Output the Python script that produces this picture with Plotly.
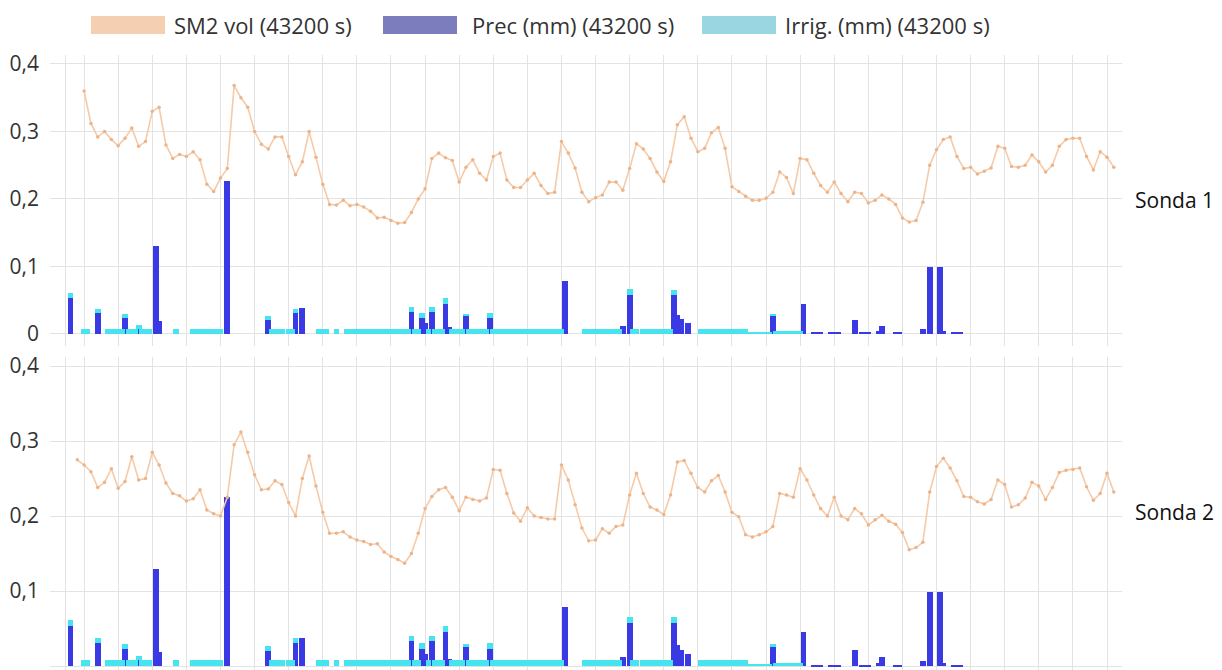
import plotly.graph_objects as go

# ---------------- data ----------------
# Soil moisture SM2 (volumetric), one value per day, day index starts below
sm1_start = 0
sm1 = [
    0.360, 0.312, 0.292, 0.300, 0.288, 0.279, 0.290, 0.305, 0.278, 0.285,
    0.330, 0.336, 0.280, 0.260, 0.266, 0.263, 0.270, 0.258, 0.222, 0.211,
    0.231, 0.245, 0.368, 0.350, 0.336, 0.300, 0.281, 0.274, 0.292, 0.292,
    0.263, 0.236, 0.255, 0.300, 0.262, 0.222, 0.192, 0.191, 0.198, 0.190,
    0.192, 0.188, 0.182, 0.172, 0.173, 0.168, 0.164, 0.165, 0.180, 0.200,
    0.215, 0.260, 0.268, 0.261, 0.257, 0.225, 0.247, 0.258, 0.238, 0.228,
    0.263, 0.268, 0.228, 0.217, 0.217, 0.228, 0.238, 0.220, 0.208, 0.210,
    0.285, 0.268, 0.246, 0.210, 0.196, 0.202, 0.206, 0.225, 0.225, 0.213,
    0.245, 0.282, 0.274, 0.260, 0.240, 0.226, 0.255, 0.310, 0.322, 0.290,
    0.270, 0.275, 0.298, 0.306, 0.275, 0.218, 0.211, 0.204, 0.198, 0.198,
    0.201, 0.210, 0.240, 0.232, 0.208, 0.260, 0.258, 0.238, 0.220, 0.210,
    0.225, 0.208, 0.196, 0.210, 0.208, 0.194, 0.198, 0.206, 0.200, 0.192,
    0.172, 0.166, 0.168, 0.195, 0.250, 0.273, 0.288, 0.292, 0.263, 0.245,
    0.247, 0.237, 0.241, 0.246, 0.278, 0.275, 0.248, 0.247, 0.250, 0.265,
    0.255, 0.240, 0.250, 0.278, 0.288, 0.290, 0.290, 0.263, 0.243, 0.270,
    0.262, 0.247,
]

sm2_start = -1
sm2 = [
    0.275,
    0.268, 0.259, 0.238, 0.245, 0.263, 0.237, 0.246, 0.279, 0.248, 0.250,
    0.285, 0.268, 0.244, 0.230, 0.227, 0.220, 0.223, 0.235, 0.208, 0.203,
    0.200, 0.225, 0.295, 0.312, 0.285, 0.255, 0.235, 0.236, 0.247, 0.242,
    0.218, 0.200, 0.250, 0.280, 0.240, 0.205, 0.177, 0.177, 0.179, 0.172,
    0.168, 0.166, 0.162, 0.163, 0.152, 0.146, 0.142, 0.137, 0.150, 0.177,
    0.210, 0.226, 0.235, 0.238, 0.225, 0.207, 0.225, 0.222, 0.220, 0.224,
    0.262, 0.261, 0.230, 0.204, 0.193, 0.211, 0.200, 0.198, 0.196, 0.196,
    0.268, 0.248, 0.215, 0.184, 0.167, 0.168, 0.183, 0.177, 0.186, 0.188,
    0.228, 0.257, 0.230, 0.212, 0.208, 0.202, 0.228, 0.272, 0.274, 0.257,
    0.238, 0.232, 0.247, 0.254, 0.232, 0.205, 0.199, 0.175, 0.172, 0.175,
    0.179, 0.186, 0.230, 0.228, 0.225, 0.263, 0.248, 0.228, 0.210, 0.200,
    0.225, 0.200, 0.195, 0.210, 0.203, 0.188, 0.195, 0.201, 0.193, 0.189,
    0.178, 0.155, 0.158, 0.165, 0.232, 0.266, 0.277, 0.264, 0.247, 0.226,
    0.225, 0.219, 0.216, 0.222, 0.248, 0.242, 0.212, 0.215, 0.224, 0.245,
    0.240, 0.222, 0.238, 0.258, 0.261, 0.262, 0.264, 0.239, 0.221, 0.230,
    0.257, 0.232,
]

# Precipitation and irrigation, one value per 12 h (43200 s); each row = 5 days
bar_start = -5
prec = [
    0, 0, 0, 0, 0, 0, 0.053, 0, 0, 0,            # -5 .. -0.5
    0, 0, 0, 0, 0.031, 0, 0, 0, 0, 0,            # 0 .. 4.5
    0, 0, 0.023, 0, 0, 0, 0.008, 0, 0, 0,        # 5
    0, 0.130, 0.019, 0, 0, 0, 0, 0, 0, 0,        # 10
    0, 0, 0, 0, 0, 0, 0, 0, 0, 0,                # 15
    0, 0, 0.226, 0, 0, 0, 0, 0, 0, 0,            # 20
    0, 0, 0, 0, 0.020, 0, 0, 0, 0, 0,            # 25
    0, 0, 0.031, 0, 0.038, 0, 0, 0, 0, 0,        # 30
    0, 0, 0, 0, 0, 0, 0, 0, 0, 0,                # 35
    0, 0, 0, 0, 0, 0, 0, 0, 0, 0,                # 40
    0, 0, 0, 0, 0, 0, 0.033, 0, 0, 0.023,        # 45
    0.016, 0, 0.033, 0, 0, 0, 0.045, 0.010, 0, 0,  # 50
    0, 0, 0.026, 0, 0, 0, 0, 0, 0, 0.023,        # 55
    0, 0, 0, 0, 0, 0, 0, 0, 0, 0,                # 60
    0, 0, 0, 0, 0, 0, 0, 0, 0, 0,                # 65
    0, 0.079, 0, 0, 0, 0, 0, 0, 0, 0,            # 70
    0, 0, 0, 0, 0, 0, 0, 0, 0.012, 0,            # 75
    0.058, 0, 0, 0, 0, 0, 0, 0, 0, 0,            # 80
    0, 0, 0, 0.058, 0.028, 0.022, 0, 0.016, 0, 0,  # 85
    0, 0, 0, 0, 0, 0, 0, 0, 0, 0,                # 90
    0, 0, 0, 0, 0, 0, 0, 0, 0, 0,                # 95
    0, 0, 0.026, 0, 0, 0, 0, 0, 0, 0,            # 100
    0, 0.045, 0, 0, 0.002, 0.002, 0.002, 0, 0, 0.002,  # 105
    0.002, 0.002, 0, 0, 0, 0, 0.021, 0, 0.002, 0.002,  # 110
    0.002, 0, 0, 0.004, 0.012, 0, 0, 0, 0.002, 0.002,  # 115
    0, 0, 0, 0, 0, 0, 0.007, 0, 0.099, 0,        # 120
    0, 0.099, 0.004, 0, 0, 0.002, 0.002, 0.002, 0, 0,  # 125
    0, 0, 0, 0, 0, 0, 0, 0, 0, 0,                # 130
]

irrig = [
    0, 0, 0, 0, 0, 0, 0.008, 0, 0, 0,                                      # -5
    0.008, 0.008, 0, 0, 0.006, 0, 0, 0.008, 0.008, 0.008,                  # 0
    0.008, 0.008, 0.007, 0.008, 0.008, 0.008, 0.005, 0.008, 0.008, 0.008,  # 5
    0, 0, 0, 0, 0, 0, 0, 0.008, 0, 0,                                      # 10
    0, 0, 0.008, 0.008, 0.008, 0.008, 0.008, 0.008, 0.008, 0.008,          # 15
    0.008, 0, 0, 0, 0, 0, 0, 0, 0, 0,                                      # 20
    0, 0, 0, 0, 0.007, 0.008, 0.008, 0.008, 0.008, 0,                      # 25
    0.008, 0.008, 0.006, 0, 0, 0, 0, 0, 0, 0.008,                          # 30
    0.008, 0.008, 0, 0, 0.008, 0, 0, 0.008, 0.008, 0.008,                  # 35
    0.008, 0.008, 0.008, 0.008, 0.008, 0.008, 0.008, 0.008, 0.008, 0.008,  # 40
    0.008, 0.008, 0.008, 0.008, 0.008, 0.008, 0.007, 0.008, 0.008, 0.008,  # 45
    0, 0.008, 0.007, 0.008, 0.008, 0.008, 0.008, 0, 0.008, 0.008,          # 50
    0.008, 0.008, 0.004, 0.008, 0.008, 0.008, 0.008, 0.008, 0.008, 0.008,  # 55
    0.008, 0.008, 0.008, 0.008, 0.008, 0.008, 0.008, 0.008, 0.008, 0.008,  # 60
    0.008, 0.008, 0.008, 0.008, 0.008, 0.008, 0.008, 0.008, 0.008, 0.008,  # 65
    0.008, 0, 0, 0, 0, 0, 0, 0.008, 0.008, 0.008,                          # 70
    0.008, 0.008, 0.008, 0.008, 0.008, 0.008, 0.008, 0.008, 0, 0,          # 75
    0.008, 0.008, 0.008, 0, 0.008, 0.008, 0.008, 0.008, 0.008, 0.008,      # 80
    0.008, 0.008, 0.008, 0.007, 0, 0, 0, 0, 0, 0,                          # 85
    0, 0.008, 0.008, 0.008, 0.008, 0.008, 0.008, 0.008, 0.008, 0.008,      # 90
    0.008, 0.008, 0.008, 0.008, 0.008, 0.003, 0.003, 0.003, 0.003, 0.003,  # 95
    0.003, 0.003, 0.003, 0.004, 0.004, 0.004, 0.004, 0.004, 0.004, 0.004,  # 100
    0.004, 0, 0, 0, 0, 0, 0, 0, 0, 0,                                      # 105
    0, 0, 0, 0, 0, 0, 0, 0, 0, 0,                                          # 110
    0, 0, 0, 0, 0, 0, 0, 0, 0, 0,                                          # 115
    0, 0, 0, 0, 0, 0, 0, 0, 0, 0,                                          # 120
    0, 0, 0, 0, 0, 0, 0, 0, 0, 0,                                          # 125
    0, 0, 0, 0, 0, 0, 0, 0, 0, 0,                                          # 130
]

y_ticks = [0, 0.1, 0.2, 0.3, 0.4]
y_tick_text = ["0", "0,1", "0,2", "0,3", "0,4"]
grid_days = [-2.8] + list(range(0, 155, 5))
legend_labels = ["SM2 vol (43200 s)", "Prec (mm) (43200 s)", "Irrig. (mm) (43200 s)"]
probe_labels = ["Sonda 1", "Sonda 2"]

# ---------------- styling ----------------
W, H = 1222, 670
FONT = "Open Sans"
C_LINE = "#f6caa7"
C_MARK = "#ebb48b"
C_PREC = "#3a3ae4"
C_IRR = "#45e4ef"
LEG_COLORS = ["#f4cfb1", "#7b7dbd", "#9ad5e2"]
GRID = "#e3e3e3"


def fx(p):
    return p / W


def fy(p):
    return 1 - p / H


sm1_days = [sm1_start + i for i in range(len(sm1))]
sm2_days = [sm2_start + i for i in range(len(sm2))]
bar_days = [bar_start + 0.5 * i for i in range(len(prec))]

fig = go.Figure()
for k, (days, sm) in enumerate([(sm1_days, sm1), (sm2_days, sm2)]):
    xa = "x" if k == 0 else "x2"
    ya = "y" if k == 0 else "y2"
    fig.add_trace(go.Bar(x=bar_days, y=prec, width=0.85, marker=dict(color=C_PREC, line=dict(width=0)),
                         xaxis=xa, yaxis=ya, showlegend=False, name=legend_labels[1]))
    fig.add_trace(go.Bar(x=bar_days, y=irrig, width=0.85, marker=dict(color=C_IRR, line=dict(width=0)),
                         xaxis=xa, yaxis=ya, showlegend=False, name=legend_labels[2]))
    fig.add_trace(go.Scatter(x=days, y=sm, mode="lines+markers",
                             line=dict(color=C_LINE, width=1.6),
                             marker=dict(color=C_MARK, size=3.5),
                             xaxis=xa, yaxis=ya, showlegend=False, name=legend_labels[0]))

x_dom = [fx(50), fx(1122)]
xcommon = dict(domain=x_dom, range=[-5, 152.2], tickvals=grid_days, showticklabels=False,
               showgrid=True, gridcolor=GRID, gridwidth=1, zeroline=False, showline=False,
               ticks="", automargin=False, fixedrange=True)
ycommon = dict(tickvals=y_ticks, ticktext=y_tick_text, showgrid=True, gridcolor=GRID,
               gridwidth=1, zeroline=False, showline=False, ticks="", automargin=False,
               ticklabelstandoff=10,
               tickfont=dict(family=FONT, size=21, color="#333333"), fixedrange=True)

fig.update_layout(
    template="none",
    width=W, height=H,
    margin=dict(l=0, r=0, t=0, b=0),
    paper_bgcolor="white", plot_bgcolor="white",
    barmode="stack", bargap=0,
    showlegend=False,
    font=dict(family=FONT, color="#333333"),
    xaxis=dict(anchor="y", **xcommon),
    yaxis=dict(anchor="x", domain=[fy(346), fy(55)], range=[-0.0178, 0.4133], **ycommon),
    xaxis2=dict(anchor="y2", **xcommon),
    yaxis2=dict(anchor="x2", domain=[0, fy(357)], range=[-0.0053, 0.412], **ycommon),
)

# manual legend (wide swatches as in the reference)
swatch_x = [91, 383, 702]
text_x = [172, 470, 783]
for sx, tx, col, lab in zip(swatch_x, text_x, LEG_COLORS, legend_labels):
    fig.add_shape(type="rect", xref="paper", yref="paper",
                  x0=fx(sx), x1=fx(sx + 74), y0=fy(34), y1=fy(16),
                  fillcolor=col, line=dict(width=0))
    fig.add_annotation(xref="paper", yref="paper", x=fx(tx), y=fy(25),
                       xanchor="left", yanchor="middle", showarrow=False,
                       text=lab, font=dict(family=FONT, size=22, color="#333333"))

for lab, yy in zip(probe_labels, [200, 512]):
    fig.add_annotation(xref="paper", yref="paper", x=fx(1133), y=fy(yy),
                       xanchor="left", yanchor="middle", showarrow=False,
                       text=lab, font=dict(family=FONT, size=21, color="#111111"))

fig.write_html("out.html", config={"displayModeBar": False},
               post_script="document.body.style.margin='0';document.body.style.overflow='hidden';")
